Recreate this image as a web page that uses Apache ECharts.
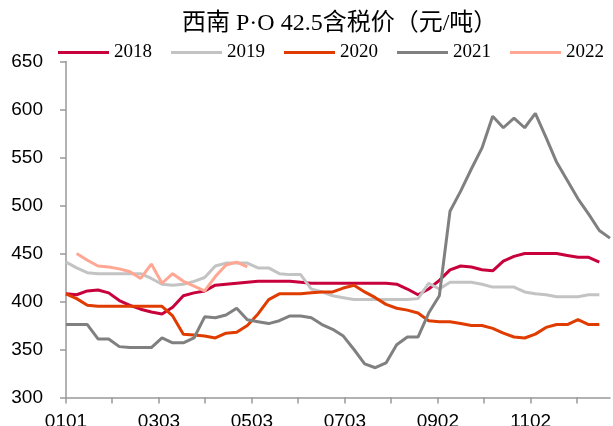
<!DOCTYPE html>
<html style="height: 100%">
<head>
    <meta charset="UTF-8">
    <script src="https://cdn.jsdelivr.net/npm/echarts@6/dist/echarts.min.js"></script>
</head>
<body style="height: 100%; margin: 0; background: #fff">
    <div id="main" style="width: 613px; height: 426px;"></div>
    <script type="text/javascript">
        // 周度数据，每周一个点（第 k 周 = 第 k*7 天）
        var years = ['2018', '2019', '2020', '2021', '2022'];
        var colors = ['#C8003C', '#C3C3C3', '#E03C00', '#808080', '#FFA792'];

        var s2018 = [408, 407, 411, 412, 409, 401, 396, 392, 389, 387, 394, 406, 409, 411, 417, 418, 419, 420, 421, 421,
            421, 421, 420, 419, 419, 419, 419, 419, 419, 419, 419, 418, 413, 407, 413, 422, 433, 437, 436, 433,
            432, 442, 447, 450, 450, 450, 450, 448, 446, 446, 441, null];
        var s2019 = [441, 435, 430, 429, 429, 429, 429, 429, 424, 418, 417, 418, 421, 425, 437, 440, 440, 440, 435, 435,
            429, 428, 428, 413, 410, 406, 404, 402, 402, 402, 402, 402, 402, 403, 419, 413, 420, 420, 420, 418,
            415, 415, 415, 410, 408, 407, 405, 405, 405, 407, 407, null];
        var s2020 = [408, 403, 396, 395, 395, 395, 395, 395, 395, 395, 385, 366, 365, 364, 362, 367, 368, 375, 387, 402,
            408, 408, 408, 409, 410, 410, 414, 417, 410, 404, 397, 393, 391, 388, 380, 379, 379, 377, 375, 375,
            372, 367, 363, 362, 366, 373, 376, 376, 381, 376, 376, null];
        var s2021 = [376, 376, 376, 361, 361, 353, 352, 352, 352, 362, 357, 357, 362, 384, 383, 386, 393, 381, 379, 377,
            380, 385, 385, 383, 376, 371, 364, 350, 335, 331, 336, 355, 363, 363, 388, 406, 494, 515, 538, 560,
            593, 581, 591, 581, 596, 571, 545, 526, 507, 491, 474, 466];
        var s2022 = [null, 450, 443, 437, 436, 434, 431, 424, 439, 419, 429, 421, 416, 411, 426, 438, 441, 436];

        var seriesValues = [s2018, s2019, s2020, s2021, s2022];

        // 横轴：按日的类目（0101 起）
        var days = [];
        for (var i = 0; i < 358; i++) {
            var d = new Date(Date.UTC(2018, 0, 1 + i));
            var mm = ('0' + (d.getUTCMonth() + 1)).slice(-2);
            var dd = ('0' + d.getUTCDate()).slice(-2);
            days.push(mm + dd);
        }

        var myChart = echarts.init(document.getElementById('main'));

        var series = years.map(function (name, idx) {
            var data = [];
            seriesValues[idx].forEach(function (v, k) {
                if (v != null) data.push([k * 7, v]);
            });
            return {
                name: name,
                type: 'line',
                data: data,
                symbol: 'none',
                animation: false,
                lineStyle: { width: 3, color: colors[idx] },
                itemStyle: { color: colors[idx] }
            };
        });

        var option = {
            title: {
                text: '西南 P·O 42.5含税价（元/吨）',
                left: 177,
                top: 7,
                textStyle: {
                    fontFamily: '"Liberation Serif", "Noto Sans CJK SC"',
                    fontSize: 24,
                    fontWeight: 'normal',
                    color: '#000'
                }
            },
            legend: {
                data: years,
                icon: 'rect',
                left: 53,
                top: 38,
                width: 600,
                itemWidth: 51,
                itemHeight: 3,
                itemGap: 19,
                textStyle: {
                    fontFamily: '"Liberation Serif"',
                    fontSize: 19,
                    color: '#000',
                    padding: [0, 0, 0, 0]
                }
            },
            grid: {
                left: 66,
                right: 3,
                top: 61.5,
                bottom: 28.5,
                outerBoundsMode: 'none'
            },
            xAxis: {
                type: 'category',
                boundaryGap: false,
                data: days,
                axisLine: { lineStyle: { color: '#999', width: 1.5 } },
                axisTick: {
                    length: 6,
                    lineStyle: { color: '#999', width: 1.5 },
                    interval: function (index) {
                        return index % 61 === 0 || index % 61 === 30;
                    }
                },
                axisLabel: {
                    interval: function (index) {
                        return index % 61 === 0;
                    },
                    margin: 15,
                    fontFamily: '"Liberation Sans"',
                    fontSize: 19,
                    color: '#000'
                },
                splitLine: { show: false }
            },
            yAxis: {
                type: 'value',
                min: 300,
                max: 650,
                interval: 50,
                axisLine: { show: true, lineStyle: { color: '#999', width: 1.5 } },
                axisTick: { show: true, length: 6, lineStyle: { color: '#999', width: 1.5 } },
                axisLabel: {
                    margin: 23,
                    fontFamily: '"Liberation Sans"',
                    fontSize: 19,
                    color: '#000'
                },
                splitLine: { show: false }
            },
            series: series
        };

        myChart.setOption(option);
    </script>
</body>
</html>
